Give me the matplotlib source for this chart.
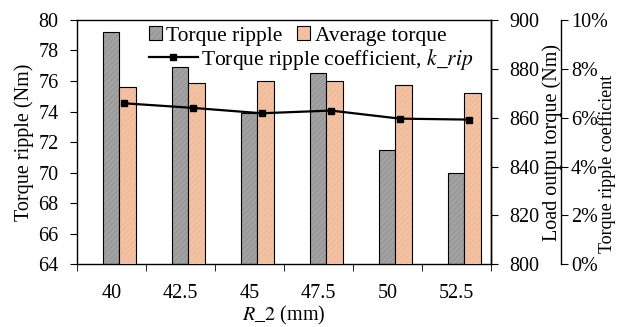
import matplotlib
matplotlib.use('Agg')
import matplotlib.pyplot as plt
import numpy as np

# R_2 sweep results
r2_labels = ['40', '42.5', '45', '47.5', '50', '52.5']
torque_ripple = [79.2, 76.9, 73.9, 76.5, 71.5, 70.0]        # Nm
average_torque = [872.6, 874.1, 875.0, 875.0, 873.5, 870.0]  # Nm
k_rip = [6.59, 6.40, 6.18, 6.29, 5.96, 5.92]                 # %

plt.rcParams['font.family'] = 'Liberation Serif'
plt.rcParams['mathtext.fontset'] = 'stix'
plt.rcParams['font.size'] = 14.5
plt.rcParams['hatch.linewidth'] = 0.4

fig = plt.figure(figsize=(6.19, 3.27), dpi=100)
ax = fig.add_axes([0.124, 0.192, 0.669, 0.747])
ax2 = ax.twinx()
ax3 = ax.twinx()

x = np.arange(len(r2_labels))
w = 0.235

b1 = ax.bar(x, torque_ripple, w, color='#9b9b9b', edgecolor='black',
            linewidth=0.8, hatch='//////', label='Torque ripple', zorder=2)
b2 = ax2.bar(x + w, average_torque, w, color='#f1bd9c', edgecolor='black',
             linewidth=0.8, hatch='//////', label='Average torque', zorder=2)
for p in list(b1) + list(b2):
    p._hatch_color = (1, 1, 1, 0.25)

ln, = ax3.plot(x + 0.18, k_rip, color='black', lw=1.6, marker='s',
               markersize=4.5, label='Torque ripple coefficient, $k\\_rip$')

ax.set_xlim(-0.5, len(x) - 0.5)
ax.set_ylim(64, 80)
ax.set_yticks(np.arange(64, 81, 2))
ax2.set_ylim(800, 900)
ax2.set_yticks(np.arange(800, 901, 20))
ax3.set_ylim(0, 10)
ax3.set_yticks(np.arange(0, 11, 2))
ax3.set_yticklabels([f'{v}%' for v in range(0, 11, 2)])

ax.set_xticks(x)
ax.set_xticklabels(r2_labels)
ax.set_xticks(np.arange(-0.5, len(x), 1), minor=True)
ax.tick_params(axis='x', which='major', length=0, pad=14)
ax.tick_params(axis='x', which='minor', length=5, direction='out')
ax.tick_params(axis='y', direction='out', length=5, pad=8)
ax2.tick_params(axis='y', direction='out', length=5, pad=8)
ax3.tick_params(axis='y', direction='out', length=5, pad=2)

ax3.spines['right'].set_position(('axes', 1.17))
for a in (ax2, ax3):
    for s in ('top', 'left', 'bottom'):
        a.spines[s].set_visible(False)
for a in (ax, ax2, ax3):
    for s in a.spines.values():
        s.set_linewidth(1.0)

ax.set_ylabel('Torque ripple (Nm)', labelpad=3.5)
ax2.set_ylabel('Load outpu torque (Nm)', labelpad=2)
ax3.set_ylabel('Torque ripple coefficient', fontsize=13)
ax3.yaxis.set_label_coords(0.967, 0.5, transform=fig.transFigure)
ax.set_xlabel('$R\\_2$ (mm)', labelpad=1)

leg1 = ax3.legend(handles=[b1, b2], loc='upper left', bbox_to_anchor=(0.153, 1.01),
                  ncol=2, frameon=False, handlelength=0.6, handleheight=0.6,
                  handletextpad=0.2, columnspacing=0.7, borderaxespad=0,
                  fontsize=15.5)
ax3.add_artist(leg1)
ax3.legend(handles=[ln], loc='upper left', bbox_to_anchor=(0.153, 0.925),
           frameon=False, handlelength=2.3, handletextpad=0.15,
           borderaxespad=0, fontsize=15.5)

fig.savefig('out.png', dpi=100)
